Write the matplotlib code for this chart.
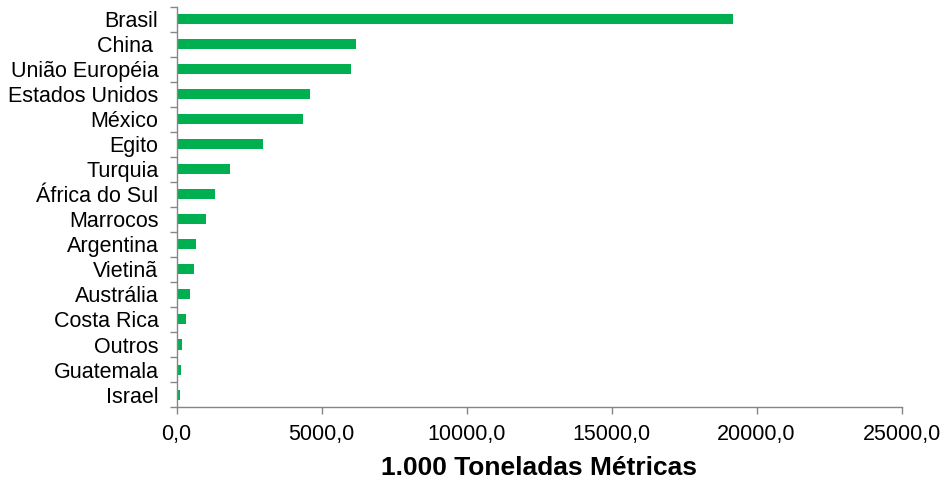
"""Horizontal bar chart: production by country (1.000 toneladas métricas)."""

import matplotlib

matplotlib.use("Agg")
import matplotlib.pyplot as plt
import numpy as np
from matplotlib.ticker import FuncFormatter, FixedLocator

countries = [
    "Brasil", "China ", "União Européia", "Estados Unidos", "México", "Egito",
    "Turquia", "África do Sul", "Marrocos", "Argentina", "Vietinã", "Austrália",
    "Costa Rica", "Outros", "Guatemala", "Israel",
]
values = [
    19200, 6190, 6005, 4590, 4375, 2995,
    1845, 1340, 1030, 670, 590, 465,
    340, 190, 155, 110,
]
x_ticks = [0, 5000, 10000, 15000, 20000, 25000]

BAR_COLOR = "#00B050"
AXIS_COLOR = "#868686"

plt.rcParams["font.family"] = ["Liberation Sans", "DejaVu Sans"]

fig = plt.figure(figsize=(9.44, 4.84), dpi=100)
ax = fig.add_axes([0.187, 0.159, 0.768, 0.827])

y = np.arange(len(countries))
ax.barh(y, values, height=0.4, color=BAR_COLOR, edgecolor="none")

ax.set_ylim(len(countries) - 0.5, -0.5)
ax.set_xlim(0, 25000)

ax.set_yticks(y)
ax.set_yticklabels(countries, fontsize=15.5)
ax.yaxis.set_minor_locator(FixedLocator(np.arange(-0.5, len(countries), 1.0)))
ax.tick_params(axis="y", which="major", length=0, pad=13)
ax.tick_params(axis="y", which="minor", length=5, width=1, color=AXIS_COLOR)

ax.set_xticks(x_ticks)
ax.xaxis.set_major_formatter(FuncFormatter(lambda v, _: f"{v:.1f}".replace(".", ",")))
ax.tick_params(axis="x", which="major", length=5, width=1, color=AXIS_COLOR,
               labelsize=15.5, pad=7)

for side in ("top", "right"):
    ax.spines[side].set_visible(False)
for side in ("left", "bottom"):
    ax.spines[side].set_color(AXIS_COLOR)
    ax.spines[side].set_linewidth(1)

ax.set_xlabel("1.000 Toneladas Métricas", fontsize=19, fontweight="bold", labelpad=8)

fig.savefig("out.png", dpi=100)
